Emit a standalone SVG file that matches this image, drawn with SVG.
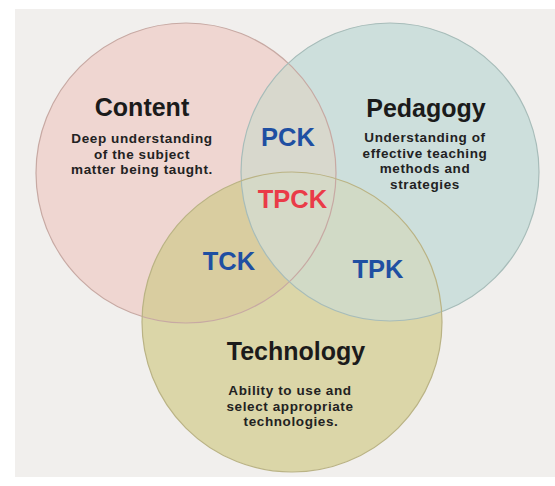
<svg xmlns="http://www.w3.org/2000/svg" width="555" height="486" viewBox="0 0 555 486">
  <style>
    .head { font-family: "Liberation Sans", Arial, sans-serif; font-weight: bold; font-size: 25px; fill: #1b1b1b; text-anchor: middle; }
    .body { font-family: "Liberation Sans", Arial, sans-serif; font-weight: bold; font-size: 13.5px; letter-spacing: 0.6px; fill: #222222; text-anchor: middle; }
    .acr { font-family: "Liberation Sans", Arial, sans-serif; font-weight: bold; font-size: 25.5px; fill: #1f4fa2; text-anchor: middle; }
    .red { fill: #ea3b48; }
    .edge { fill: none; stroke-width: 1.2; }
  </style>
  <defs>
    <circle id="cC" cx="186" cy="173" r="150"/>
    <circle id="cP" cx="390" cy="172" r="149"/>
    <circle id="cT" cx="292" cy="322" r="150"/>
    <clipPath id="clipC"><use href="#cC"/></clipPath>
    <clipPath id="clipP"><use href="#cP"/></clipPath>
  </defs>
  <rect x="0" y="0" width="555" height="486" fill="#ffffff"/>
  <rect x="15" y="9" width="540" height="468" fill="#f1efed"/>

  <g id="fills">
    <use href="#cC" fill="#efd6d1"/>
    <use href="#cP" fill="#cddfdc"/>
    <use href="#cT" fill="#dbd6a8"/>
    <use href="#cP" fill="#d8d8cd" clip-path="url(#clipC)"/>
    <use href="#cT" fill="#d9cda0" clip-path="url(#clipC)"/>
    <use href="#cT" fill="#d1dac6" clip-path="url(#clipP)"/>
    <g clip-path="url(#clipC)"><use href="#cT" fill="#d5d9c7" clip-path="url(#clipP)"/></g>
    <use href="#cC" class="edge" stroke="#c7a9a3"/>
    <use href="#cP" class="edge" stroke="#a7bcb9"/>
    <use href="#cT" class="edge" stroke="#bab385"/>
  </g>

  <g id="content">
    <text class="head" x="142" y="116">Content</text>
    <text class="body" x="142" y="143">Deep understanding</text>
    <text class="body" x="142" y="158.5">of the subject</text>
    <text class="body" x="142" y="174">matter being taught.</text>
  </g>

  <g id="pedagogy">
    <text class="head" x="426" y="117">Pedagogy</text>
    <text class="body" x="425" y="142">Understanding of</text>
    <text class="body" x="425" y="157.5">effective teaching</text>
    <text class="body" x="425" y="173">methods and</text>
    <text class="body" x="425" y="188.5">strategies</text>
  </g>

  <g id="technology">
    <text class="head" x="296" y="360">Technology</text>
    <text class="body" x="290" y="395">Ability to use and</text>
    <text class="body" x="290" y="410.5">select appropriate</text>
    <text class="body" x="291" y="426">technologies.</text>
  </g>

  <g id="pck"><text class="acr" x="288" y="146">PCK</text></g>
  <g id="tpck"><text class="acr red" x="292.5" y="208">TPCK</text></g>
  <g id="tck"><text class="acr" x="229" y="270">TCK</text></g>
  <g id="tpk"><text class="acr" x="378" y="278">TPK</text></g>

  <g id="connectors"/>
</svg>
